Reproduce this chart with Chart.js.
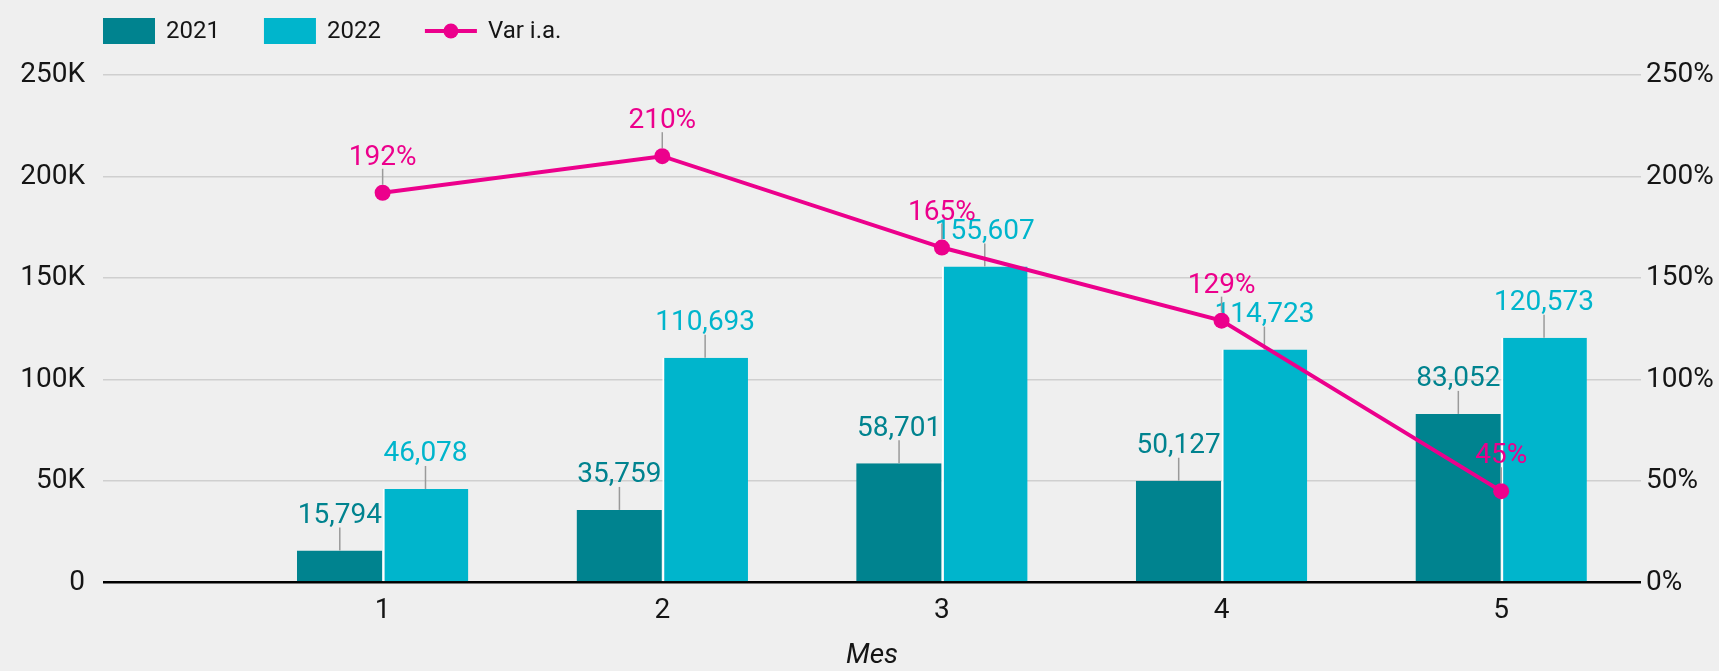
<!DOCTYPE html>
<html><head><meta charset="utf-8">
<script src="https://cdn.jsdelivr.net/npm/chart.js@4.4.0/dist/chart.umd.min.js"></script>
<style>html,body{margin:0;padding:0;background:#efefef;overflow:hidden;} #wrap{width:1719px;height:671px;position:relative;}</style>
</head><body><div id="wrap"><canvas id="c" width="1719" height="671" style="width:1719px;height:671px"></canvas></div>
<script>
// ---- data ----
const months = [1, 2, 3, 4, 5];
const sales2021 = [15794, 35759, 58701, 50127, 83052];
const sales2022 = [46078, 110693, 155607, 114723, 120573];
const varIA = [192, 210, 165, 129, 45];
const leftTicks = [0, 50000, 100000, 150000, 200000, 250000];
const rightTicks = [0, 50, 100, 150, 200, 250];
const seriesNames = ['2021', '2022', 'Var i.a.'];
const axisTitle = 'Mes';

// ---- styles ----
const C2021 = '#00838f', C2022 = '#00b5cc', CLINE = '#ec008c';
const FONT = 'Roboto';
const TXT = '#151515';

const bg = {
  id: 'bg',
  beforeDraw(chart) {
    const c = chart.ctx; c.save(); c.fillStyle = '#efefef';
    c.fillRect(0, 0, chart.width, chart.height); c.restore();
  }
};

const valueLabels = {
  id: 'valueLabels',
  afterDatasetDraw(chart, args) {
    const ds = chart.data.datasets[args.index];
    const ctx = chart.ctx;
    const isLine = ds.type === 'line';
    ctx.save();
    args.meta.data.forEach((el, i) => {
      const v = ds.data[i].y;
      const x = el.x, y = el.y;
      ctx.strokeStyle = '#9a9a9a';
      ctx.lineWidth = 1.5;
      ctx.beginPath();
      ctx.moveTo(x, isLine ? y - 8 : y);
      ctx.lineTo(x, y - (isLine ? 24 : 23));
      ctx.stroke();
      ctx.font = '28px ' + FONT;
      ctx.fillStyle = ds.labelColor;
      ctx.textAlign = 'center';
      ctx.textBaseline = 'alphabetic';
      const t = isLine ? v + '%' : v.toLocaleString('en-US');
      ctx.fillText(t, x, y - (isLine ? 28 : 27.5));
    });
    ctx.restore();
  }
};

const customLegend = {
  id: 'customLegend',
  afterDraw(chart) {
    const ctx = chart.ctx;
    ctx.save();
    ctx.font = '24px ' + FONT;
    ctx.textBaseline = 'middle';
    ctx.textAlign = 'left';
    let x = 103; const cy = 31;
    chart.data.datasets.forEach(ds => {
      if (ds.type === 'line') {
        ctx.strokeStyle = ds.borderColor; ctx.lineWidth = 4;
        ctx.beginPath(); ctx.moveTo(x, cy); ctx.lineTo(x + 52, cy); ctx.stroke();
        ctx.fillStyle = ds.borderColor;
        ctx.beginPath(); ctx.arc(x + 26, cy, 7.5, 0, Math.PI * 2); ctx.fill();
      } else {
        ctx.fillStyle = ds.backgroundColor;
        ctx.fillRect(x, 18, 52, 26);
      }
      ctx.fillStyle = TXT;
      const tx = x + 63;
      ctx.fillText(ds.label, tx, cy + 1);
      x = tx + ctx.measureText(ds.label).width + 44;
    });
    ctx.restore();
  }
};

const chart = new Chart(document.getElementById('c'), {
  type: 'bar',
  data: {
    datasets: [
      {
        type: 'bar', label: seriesNames[0], order: 1,
        data: months.map((m, i) => ({ x: m, y: sales2021[i] })),
        backgroundColor: C2021, labelColor: C2021,
        borderColor: '#ffffff', borderWidth: { top: 0, right: 0.5, bottom: 0, left: 0 }, borderSkipped: false,
        categoryPercentage: 0.613, barPercentage: 1.0, yAxisID: 'y'
      },
      {
        type: 'bar', label: seriesNames[1], order: 1,
        data: months.map((m, i) => ({ x: m, y: sales2022[i] })),
        backgroundColor: C2022, labelColor: C2022,
        borderColor: '#ffffff', borderWidth: { top: 0, right: 0, bottom: 0, left: 2 }, borderSkipped: false,
        categoryPercentage: 0.613, barPercentage: 1.0, yAxisID: 'y'
      },
      {
        type: 'line', label: seriesNames[2], order: 0,
        data: months.map((m, i) => ({ x: m, y: varIA[i] })),
        borderColor: CLINE, backgroundColor: CLINE, labelColor: CLINE,
        borderWidth: 4, pointRadius: 8, pointBorderWidth: 0, pointBackgroundColor: CLINE,
        tension: 0, fill: false, yAxisID: 'y1'
      }
    ]
  },
  options: {
    responsive: false, animation: false, events: [],
    layout: { padding: { top: 75, left: 0, right: 0, bottom: 0 } },
    plugins: { legend: { display: false }, tooltip: { enabled: false } },
    scales: {
      x: {
        type: 'linear', min: 0, max: 5.5, offset: false,
        afterBuildTicks: s => { s.ticks = months.map(m => ({ value: m })); },
        ticks: { font: { family: FONT, size: 28 }, color: TXT, padding: 12, autoSkip: false, maxRotation: 0, callback: v => String(v) },
        grid: { display: false, drawTicks: false }, border: { display: false },
        title: { display: true, text: axisTitle, color: TXT, font: { family: FONT, size: 28, style: 'italic', lineHeight: 1.1 }, padding: { top: 0, bottom: 0 } },
        afterFit: s => { s.height = 88.5; }
      },
      y: {
        position: 'left', min: 0, max: 250000,
        afterBuildTicks: s => { s.ticks = leftTicks.map(v => ({ value: v })); },
        ticks: { font: { family: FONT, size: 28 }, color: TXT, padding: 18, callback: v => v === 0 ? '0' : (v / 1000) + 'K' },
        grid: { drawTicks: false, color: c => (c.tick && c.tick.value === 0) ? '#000000' : '#cfcfcf', lineWidth: c => (c.tick && c.tick.value === 0) ? 2.5 : 1.5 },
        border: { display: false },
        afterFit: s => { s.width = 103; }
      },
      y1: {
        position: 'right', min: 0, max: 250,
        afterBuildTicks: s => { s.ticks = rightTicks.map(v => ({ value: v })); },
        ticks: { font: { family: FONT, size: 28 }, color: TXT, padding: 5, callback: v => v + '%' },
        grid: { display: false, drawTicks: false }, border: { display: false },
        afterFit: s => { s.width = 78; }
      }
    }
  },
  plugins: [bg, valueLabels, customLegend]
});
</script></body></html>
